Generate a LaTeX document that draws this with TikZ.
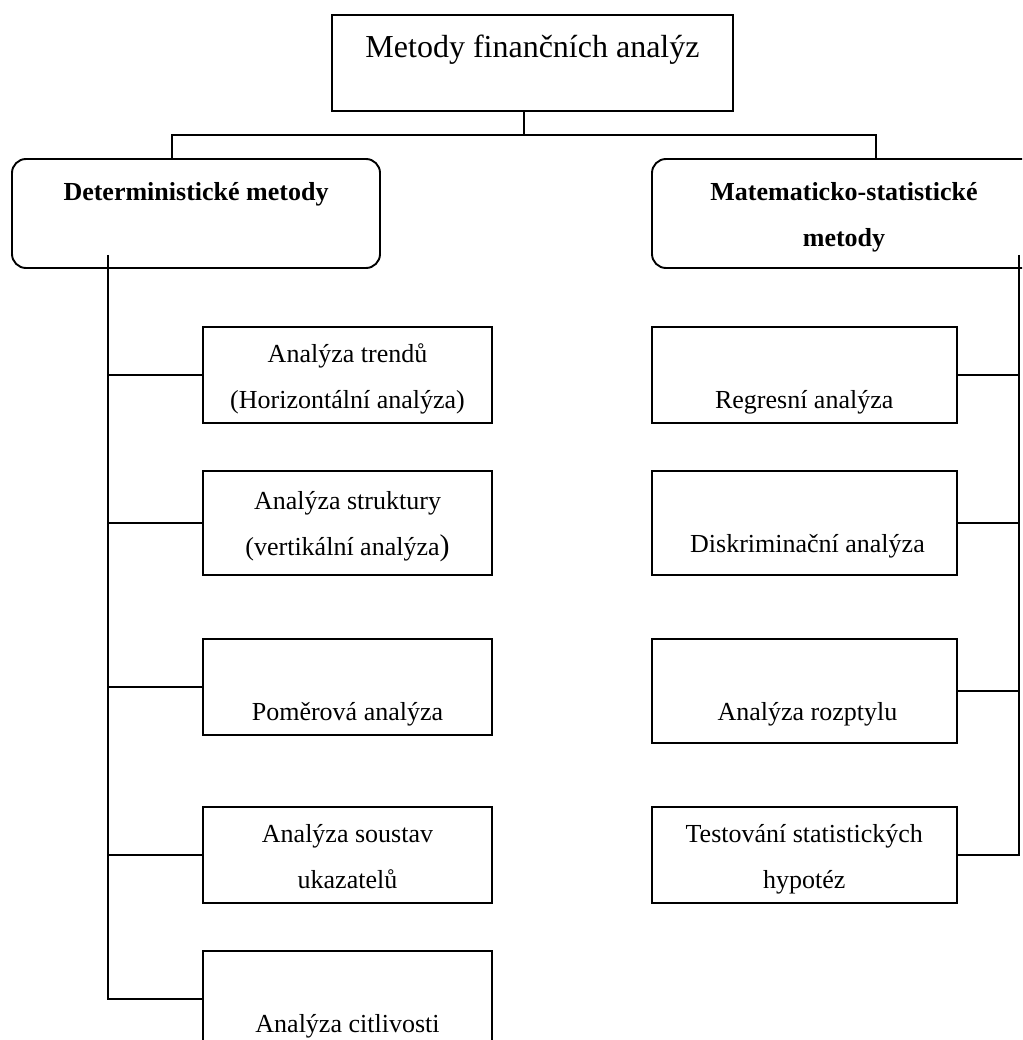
\documentclass[tikz,border=0pt]{standalone}
\usepackage{fontspec}
\setmainfont{Liberation Serif}
\usepackage{tikz}
\newcommand{\sline}[1][6]{\rule[-#1pt]{0pt}{\numexpr26+#1\relax pt}}

\begin{document}
\begin{tikzpicture}[x=1pt,y=-1pt,line width=1.9pt,
  box/.style={draw,rectangle,align=center,inner sep=0pt,minimum height=96pt,font=\fontsize{26pt}{46pt}\selectfont},
  lbox/.style={box,minimum width=289pt},
  rbox/.style={box,minimum width=305pt},
  group/.style={box,rounded corners=14pt,minimum height=109pt,font=\fontsize{26pt}{46pt}\selectfont\bfseries}]
  \useasboundingbox (0,0) rectangle (1022,1040);
  \clip (0,0) rectangle (1022,1040);
  \node[box,minimum width=401pt,text height=22pt,text depth=32pt,font=\fontsize{32pt}{40pt}\selectfont] (top) at (532.5,62.7) {Metody finančních analýz};
  \node[group,minimum width=368pt] (det) at (196,213.5) {\sline Deterministické metody\\ \sline};
  \node[group,minimum width=384pt] (mat) at (844,213.5) {\sline Matematicko-statistické\\ \sline metody};
  \node[lbox] (a1) at (347.5,375) {\sline Analýza trendů\\ \sline (Horizontální analýza)};
  \node[lbox,minimum height=104pt] (a2) at (347.5,523) {\sline Analýza struktury\\ \sline (vertikální analýza{\fontsize{30pt}{46pt}\selectfont)}};
  \node[lbox] (a3) at (347.5,687) {\sline\\ \sline Poměrová analýza};
  \node[lbox] (a4) at (347.5,855) {\sline Analýza soustav\\ \sline ukazatelů};
  \node[lbox] (a5) at (347.5,999) {\sline\\ \sline Analýza citlivosti};
  \node[rbox] (r1) at (804.2,375) {\sline\\ \sline Regresní analýza};
  \node[rbox,minimum height=104pt] (r2) at (804.2,523) {\sline\\ \sline[14] Diskriminační analýza};
  \node[rbox,minimum height=104pt] (r3) at (804.2,691) {\sline\\ \sline[14] Analýza rozptylu};
  \node[rbox] (r4) at (804.2,855) {\sline Testování statistických\\ \sline hypotéz};
  \coordinate (jm) at (524,134.7);
  \coordinate (jl) at (172,134.7);
  \coordinate (jr) at (876,134.7);
  \coordinate (dl) at (107.7,255);
  \coordinate (ml) at (1019.3,255);
  \draw (top.south -| jm) -- (jm);
  \draw (det.north -| jl) -- (jl) -- (jr) -- (mat.north -| jr);
  \draw (dl) |- (a5.west);
  \foreach \n in {a1,a2,a3,a4} \draw (dl |- \n.west) -- (\n.west);
  \draw (ml) |- (r4.east);
  \foreach \n in {r1,r2,r3} \draw (ml |- \n.east) -- (\n.east);
\end{tikzpicture}
\end{document}
